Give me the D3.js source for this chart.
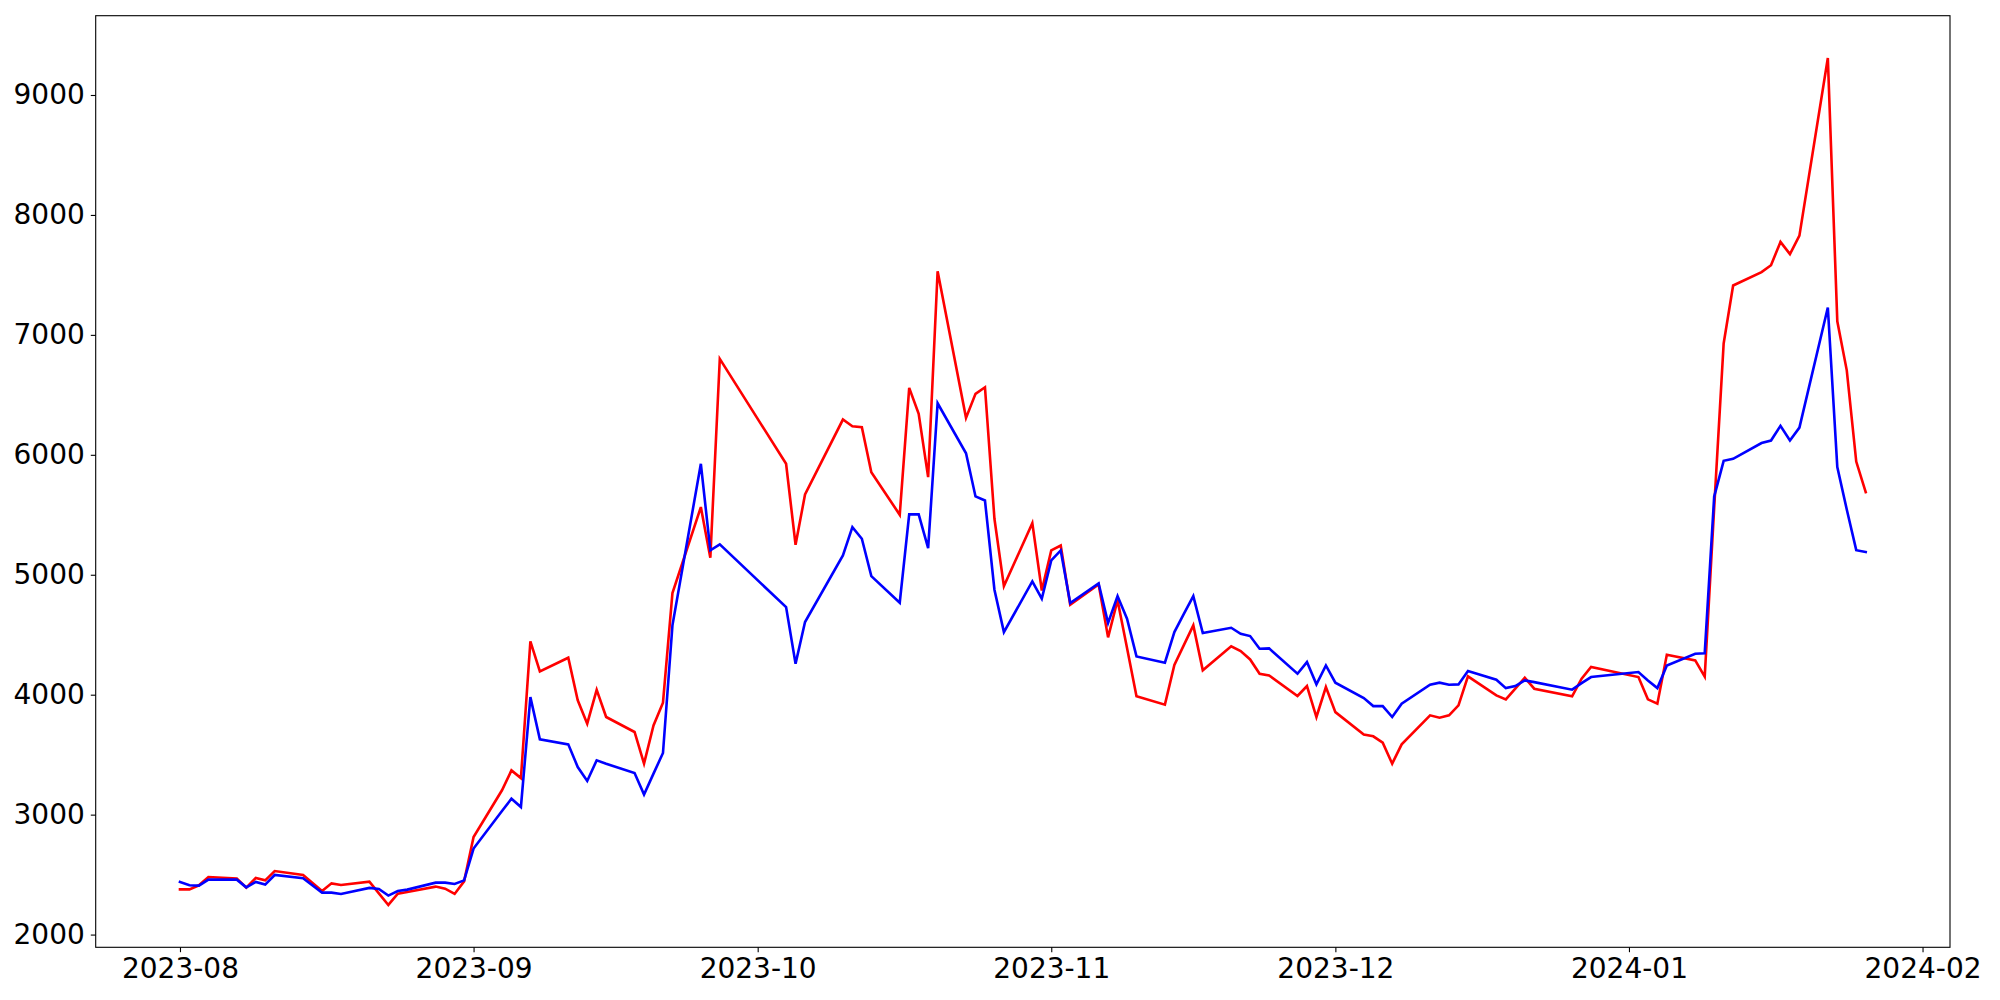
<!DOCTYPE html>
<html>
<head>
<meta charset="utf-8">
<script src="https://cdn.jsdelivr.net/npm/d3@7"></script>
<style>
  body { margin: 0; background: #ffffff; }
  svg { display: block; }
</style>
</head>
<body>
<svg id="chart" width="2000" height="1000"></svg>
<script>
// ---- Data (trading days) ----
const dates = [
  "2023-08-01","2023-08-02","2023-08-03","2023-08-04","2023-08-07","2023-08-08","2023-08-09","2023-08-10","2023-08-11",
  "2023-08-14","2023-08-16","2023-08-17","2023-08-18","2023-08-21","2023-08-22","2023-08-23","2023-08-24","2023-08-25",
  "2023-08-28","2023-08-29","2023-08-30","2023-08-31",
  "2023-09-01","2023-09-04","2023-09-05","2023-09-06","2023-09-07","2023-09-08","2023-09-11","2023-09-12","2023-09-13",
  "2023-09-14","2023-09-15","2023-09-18","2023-09-19","2023-09-20","2023-09-21","2023-09-22","2023-09-25","2023-09-26","2023-09-27",
  "2023-10-04","2023-10-05","2023-10-06","2023-10-10","2023-10-11","2023-10-12","2023-10-13","2023-10-16","2023-10-17",
  "2023-10-18","2023-10-19","2023-10-20","2023-10-23","2023-10-24","2023-10-25","2023-10-26","2023-10-27","2023-10-30","2023-10-31",
  "2023-11-01","2023-11-02","2023-11-03","2023-11-06","2023-11-07","2023-11-08","2023-11-09","2023-11-10","2023-11-13",
  "2023-11-14","2023-11-15","2023-11-16","2023-11-17","2023-11-20","2023-11-21","2023-11-22","2023-11-23","2023-11-24",
  "2023-11-27","2023-11-28","2023-11-29","2023-11-30",
  "2023-12-01","2023-12-04","2023-12-05","2023-12-06","2023-12-07","2023-12-08","2023-12-11","2023-12-12","2023-12-13",
  "2023-12-14","2023-12-15","2023-12-18","2023-12-19","2023-12-20","2023-12-21","2023-12-22","2023-12-26","2023-12-27","2023-12-28",
  "2024-01-02","2024-01-03","2024-01-04","2024-01-05","2024-01-08","2024-01-09","2024-01-10","2024-01-11","2024-01-12",
  "2024-01-15","2024-01-16","2024-01-17","2024-01-18","2024-01-19","2024-01-22","2024-01-23","2024-01-24","2024-01-25","2024-01-26"
];

const redValues = [
  2377,2377,2411,2480,2468,2391,2472,2452,2530,
  2497,2363,2427,2413,2441,2344,2247,2341,2355,
  2400,2383,2339,2444,
  2813,3203,3369,3305,4444,4194,4308,3953,3758,
  4041,3814,3689,3425,3744,3933,4847,5564,5142,6800,
  5925,5250,5669,6294,6238,6230,5855,5500,6558,
  6342,5814,7530,6308,6508,6563,5467,4905,5430,4869,
  5203,5244,4750,4920,4478,4787,4390,3988,3917,
  4248,4413,4578,4203,4403,4364,4294,4175,4161,
  3989,4072,3814,4064,
  3855,3667,3653,3600,3425,3586,3828,3808,3828,
  3911,4153,3994,3961,4050,4142,4050,3986,4133,4231,
  4147,3961,3925,4333,4286,4150,5560,6928,7412,
  7523,7581,7775,7673,7827,9308,7113,6704,5944,5688
];

const blueValues = [
  2439,2411,2408,2458,2458,2394,2439,2417,2497,
  2469,2350,2350,2339,2389,2380,2325,2363,2375,
  2433,2433,2422,2452,
  2717,3030,3133,3064,3980,3628,3586,3397,3281,
  3453,3425,3347,3167,3342,3514,4578,5925,5203,5253,
  4730,4258,4606,5161,5397,5300,4989,4767,5503,
  5503,5222,6430,6013,5653,5619,4875,4522,4944,4800,
  5119,5203,4764,4928,4598,4822,4633,4319,4267,
  4522,4673,4822,4514,4558,4508,4489,4383,4386,
  4175,4272,4086,4244,
  4100,3972,3905,3905,3814,3925,4083,4100,4083,
  4086,4197,4125,4055,4072,4119,4105,4042,4097,4147,
  4189,4119,4055,4244,4342,4345,5652,5950,5966,
  6098,6119,6242,6119,6227,7228,5898,5544,5205,5190
];

const yTicks = [2000, 3000, 4000, 5000, 6000, 7000, 8000, 9000];
const xTickDates = ["2023-08-01","2023-09-01","2023-10-01","2023-11-01","2023-12-01","2024-01-01","2024-02-01"];
const xTickLabels = ["2023-08","2023-09","2023-10","2023-11","2023-12","2024-01","2024-02"];

// ---- Layout ----
const W = 2000, H = 1000;
const plot = { left: 95.7, right: 1950, top: 15.7, bottom: 947.3 };
const FONT = "'DejaVu Sans', sans-serif";
const FONT_SIZE = 28;

const parse = d3.timeParse("%Y-%m-%d");
const dts = dates.map(parse);
const redData = dts.map((d, i) => ({ date: d, value: redValues[i] }));
const blueData = dts.map((d, i) => ({ date: d, value: blueValues[i] }));

// matplotlib-like 5% margins
const xExt = d3.extent(dts);
const xPad = (xExt[1] - xExt[0]) * 0.05;
const x = d3.scaleTime()
  .domain([new Date(+xExt[0] - xPad), new Date(+xExt[1] + xPad)])
  .range([plot.left, plot.right]);

const allV = redValues.concat(blueValues);
const yExt = d3.extent(allV);
const yPad = (yExt[1] - yExt[0]) * 0.05;
const y = d3.scaleLinear()
  .domain([yExt[0] - yPad, yExt[1] + yPad])
  .range([plot.bottom, plot.top]);

const svg = d3.select("#chart");
svg.append("rect").attr("width", W).attr("height", H).attr("fill", "#ffffff");

// Lines
const line = d3.line().x(d => x(d.date)).y(d => y(d.value));
svg.append("path").datum(redData)
  .attr("d", line).attr("fill", "none")
  .attr("stroke", "#ff0000").attr("stroke-width", 2.6)
  .attr("stroke-linejoin", "miter").attr("stroke-linecap", "square");
svg.append("path").datum(blueData)
  .attr("d", line).attr("fill", "none")
  .attr("stroke", "#0000ff").attr("stroke-width", 2.6)
  .attr("stroke-linejoin", "miter").attr("stroke-linecap", "square");

// Axes
const xAxis = d3.axisBottom(x)
  .tickValues(xTickDates.map(parse))
  .tickFormat((d, i) => xTickLabels[i])
  .tickSize(4.9).tickSizeOuter(0).tickPadding(6);
const gx = svg.append("g").attr("transform", `translate(0,${plot.bottom})`).call(xAxis);

const yAxis = d3.axisLeft(y)
  .tickValues(yTicks)
  .tickFormat(d => String(d))
  .tickSize(4.9).tickSizeOuter(0).tickPadding(6);
const gy = svg.append("g").attr("transform", `translate(${plot.left},0)`).call(yAxis);

[gx, gy].forEach(g => {
  g.select(".domain").remove();
  g.selectAll(".tick line").attr("stroke", "#000").attr("stroke-width", 1.1);
  g.selectAll(".tick text")
    .attr("fill", "#000")
    .style("font-family", FONT)
    .style("font-size", FONT_SIZE + "px");
});

// Frame (all four spines)
svg.append("rect")
  .attr("x", plot.left).attr("y", plot.top)
  .attr("width", plot.right - plot.left).attr("height", plot.bottom - plot.top)
  .attr("fill", "none").attr("stroke", "#000").attr("stroke-width", 1.1);
</script>
</body>
</html>
